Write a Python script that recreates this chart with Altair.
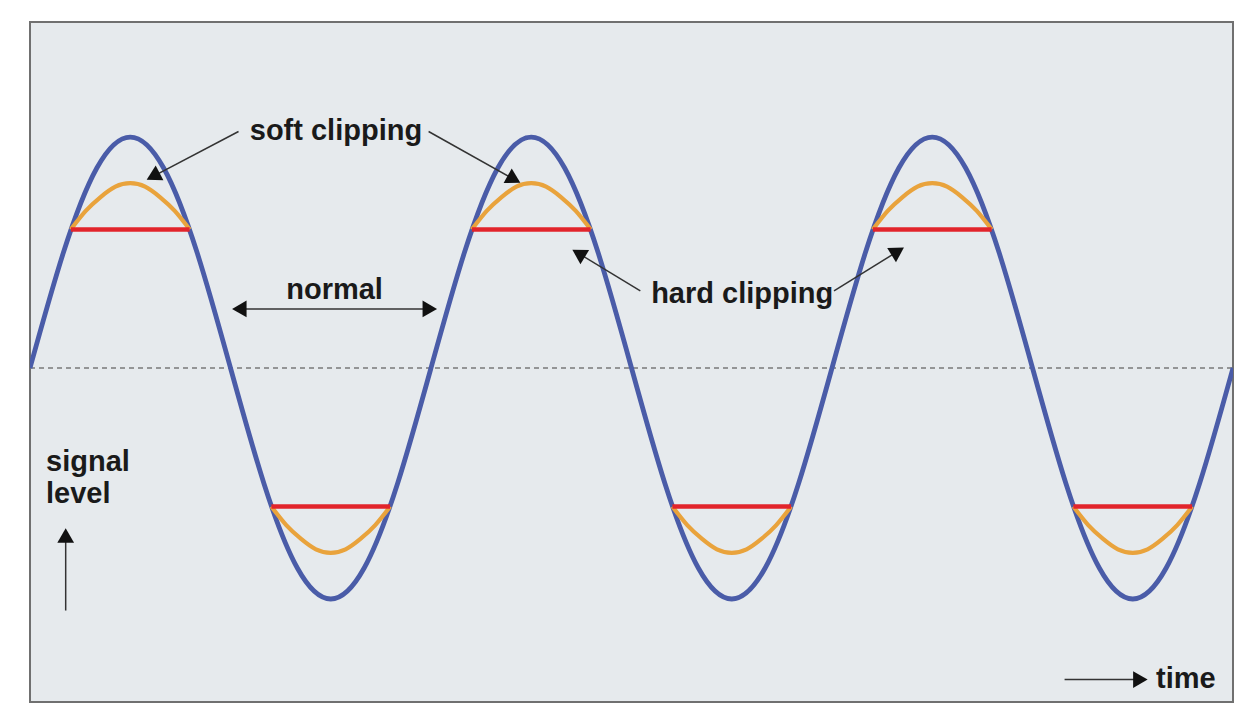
import altair as alt
import pandas as pd

# ---- data (time in periods, level in amplitude units) ----
wave_t = [k / 12 for k in range(37)]
wave_level = [0.0, 0.5, 0.866, 1.0, 0.866, 0.5, 0.0, -0.5, -0.866, -1.0, -0.866, -0.5,
              0.0, 0.5, 0.866, 1.0, 0.866, 0.5, 0.0, -0.5, -0.866, -1.0, -0.866, -0.5,
              0.0, 0.5, 0.866, 1.0, 0.866, 0.5, 0.0, -0.5, -0.866, -1.0, -0.866, -0.5,
              0.0]

peak_centers = [0.25, 1.25, 2.25]
trough_centers = [0.75, 1.75, 2.75]
clip_half_width = 0.148
hard_level = 0.6
soft_offsets = [-0.148, -0.111, -0.074, -0.037, 0.0, 0.037, 0.074, 0.111, 0.148]
soft_levels = [0.6, 0.68, 0.74, 0.785, 0.8, 0.785, 0.74, 0.68, 0.6]

label_text = ["soft clipping", "normal", "hard clipping", "signal", "level", "time"]
label_t = [0.548, 0.639, 1.549, 0.040, 0.040, 2.808]
label_level = [0.989, 0.299, 0.282, -0.447, -0.586, -1.384]

# arrow shafts: start -> end (end at arrowhead centre)
shaft_t0 = [0.520, 0.994, 1.522, 2.005, 0.520, 0.089, 2.580]
shaft_l0 = [1.024, 1.024, 0.334, 0.334, 0.256, -1.050, -1.349]
shaft_t1 = [0.307, 1.207, 1.368, 2.164, 0.999, 0.089, 2.769]
shaft_l1 = [0.830, 0.817, 0.496, 0.505, 0.256, -0.725, -1.349]

head_t = [0.307, 1.207, 1.368, 2.164, 0.522, 0.997, 0.089, 2.769]
head_level = [0.830, 0.817, 0.496, 0.505, 0.256, 0.256, -0.725, -1.349]
head_angle = [242.5, 119.0, 301.1, 58.4, 270, 90, 0, 90]

# ---- tables ----
wave_df = pd.DataFrame({"t": wave_t, "level": wave_level})

soft_rows = []
for i, c in enumerate(peak_centers):
    for d, v in zip(soft_offsets, soft_levels):
        soft_rows.append({"arc": f"p{i}", "t": c + d, "level": v})
for i, c in enumerate(trough_centers):
    for d, v in zip(soft_offsets, soft_levels):
        soft_rows.append({"arc": f"t{i}", "t": c + d, "level": -v})
soft_df = pd.DataFrame(soft_rows)

hard_rows = [{"t": c - clip_half_width, "t2": c + clip_half_width, "level": hard_level} for c in peak_centers]
hard_rows += [{"t": c - clip_half_width, "t2": c + clip_half_width, "level": -hard_level} for c in trough_centers]
hard_df = pd.DataFrame(hard_rows)

zero_df = pd.DataFrame({"t": [0.0], "t2": [3.0], "level": [0.0]})
label_df = pd.DataFrame({"text": label_text, "t": label_t, "level": label_level})
shaft_df = pd.DataFrame({"t": shaft_t0, "level": shaft_l0, "t2": shaft_t1, "level2": shaft_l1})
head_df = pd.DataFrame({"t": head_t, "level": head_level, "angle": head_angle})

xs = alt.Scale(domain=[0, 3], nice=False, zero=False)
ys = alt.Scale(domain=[-1.446, 1.498], nice=False, zero=False)
X = alt.X("t:Q", scale=xs, axis=None)
Y = alt.Y("level:Q", scale=ys, axis=None)

zero_line = alt.Chart(zero_df).mark_rule(color="#7a7a7a", strokeWidth=1.5, strokeDash=[5, 4]).encode(
    x=X, x2="t2:Q", y=Y)

wave = alt.Chart(wave_df).mark_line(color="#4a5ca8", strokeWidth=4.8, interpolate="natural", clip=True).encode(
    x=X, y=Y, order="t:Q")

soft = alt.Chart(soft_df).mark_line(color="#e9a33c", strokeWidth=4.2, interpolate="natural").encode(
    x=X, y=Y, detail="arc:N", order="t:Q")

hard = alt.Chart(hard_df).mark_rule(color="#e2242b", strokeWidth=4.5).encode(
    x=X, x2="t2:Q", y=Y)

shafts = alt.Chart(shaft_df).mark_rule(color="#333333", strokeWidth=1.5).encode(
    x=X, x2="t2:Q", y=Y, y2="level2:Q")

heads = alt.Chart(head_df).mark_point(shape="triangle-up", filled=True, color="#111111", size=280, opacity=1).encode(
    x=X, y=Y, angle=alt.Angle("angle:Q", scale=None))

labels = alt.Chart(label_df).mark_text(font="Liberation Sans", fontWeight="bold", fontSize=29,
                                       color="#1a1a1a", align="left", baseline="alphabetic").encode(
    x=X, y=Y, text="text:N")

chart = alt.layer(zero_line, wave, soft, hard, shafts, heads, labels).properties(
    width=1228, height=696,
    autosize=alt.AutoSizeParams(type="fit", contains="padding"),
    padding={"left": 21, "top": 14, "right": 2, "bottom": 2},
    background="white",
).configure_view(stroke="#707070", strokeWidth=2, fill="#e6eaed")

chart.save("out.html", embed_options={"renderer": "svg", "actions": False})
